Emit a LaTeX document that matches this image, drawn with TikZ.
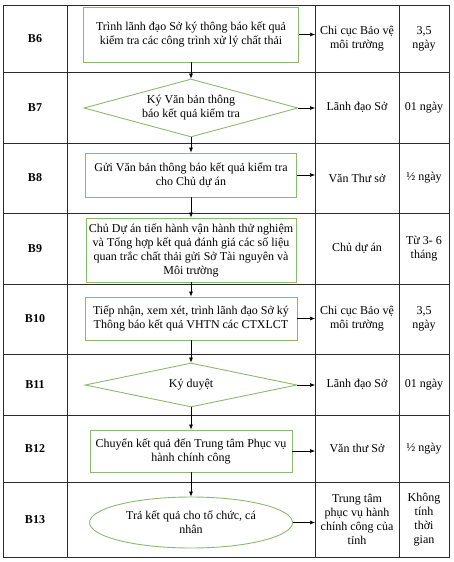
\documentclass[tikz,border=0pt]{standalone}
\usepackage{fontspec}
\setmainfont{Liberation Serif}
\usepackage{xcolor}
\usepackage{tikz}
\usetikzlibrary{shapes.geometric, arrows.meta, positioning}
\definecolor{boxline}{HTML}{8DB870}
\definecolor{rule}{HTML}{2B2B2B}

\begin{document}
\begin{tikzpicture}[x=1pt, y=-1pt,
  every node/.style={font=\fontsize{12}{14}\selectfont},
  stepbox/.style={rectangle, draw=boxline, line width=0.9pt, align=center, inner sep=0pt},
  decision/.style={diamond, shape aspect=3.7, draw=boxline, line width=0.9pt, align=center, inner sep=0pt},
  endbox/.style={ellipse, draw=boxline, line width=0.9pt, align=center, inner sep=0pt},
  steplbl/.style={font=\fontsize{12}{14}\selectfont\bfseries},
  cell/.style={align=center, inner sep=0pt},
  arr/.style={-{Latex[length=5pt,width=4pt]}, line width=0.6pt, color=black}]
\useasboundingbox (0,0) rectangle (454,562);
% table
\draw[rule, line width=1pt] (3,5) rectangle (449,557);
\foreach \x in {67,315,399} \draw[rule, line width=0.8pt] (\x,5) -- (\x,557);
\foreach \y in {72,143,213,284,354,415,482} \draw[rule, line width=0.8pt] (3,\y) -- (449,\y);
\coordinate (c3) at (315,0);
% steps
\node[steplbl] (l6) at (35,38.5) {B6};
\node[steplbl] (l7) at (35,107.5) {B7};
\node[steplbl] (l8) at (35,178) {B8};
\node[steplbl] (l9) at (35,248.5) {B9};
\node[steplbl] (l10) at (35,319) {B10};
\node[steplbl] (l11) at (35,384.5) {B11};
\node[steplbl] (l12) at (35,448.5) {B12};
\node[steplbl] (l13) at (35,519.5) {B13};
% flow
\node[stepbox, minimum width=215pt, minimum height=55pt] (b6) at (191,34.5)
  {Trình lãnh đạo Sở ký thông báo kết quả\\kiểm tra các công trình xử lý chất thải};
\node[decision, minimum width=214pt, minimum height=58pt] (b7) at (191,108)
  {Ký Văn bản thông\\báo kết quả kiểm tra};
\node[stepbox, minimum width=211pt, minimum height=44pt] (b8) at (191,175)
  {Gửi Văn bản thông báo kết quả kiểm tra\\cho Chủ dự án};
\node[stepbox, minimum width=210pt, minimum height=64pt] (b9) at (191,250)
  {Chủ Dự án tiến hành vận hành thử nghiệm\\và Tổng hợp kết quả đánh giá các số liệu\\quan trắc chất thải gửi Sở Tài nguyên và\\Môi trường};
\node[stepbox, minimum width=212pt, minimum height=43pt] (b10) at (191,318.5)
  {Tiếp nhận, xem xét, trình lãnh đạo Sở ký\\Thông báo kết quả VHTN các CTXLCT};
\node[decision, minimum width=212pt, minimum height=44pt] (b11) at (191,385)
  {Ký duyệt};
\node[stepbox, minimum width=202pt, minimum height=42pt] (b12) at (191,451)
  {Chuyển kết quả đến Trung tâm Phục vụ\\hành chính công};
\node[endbox, minimum width=203pt, minimum height=51pt] (b13) at (191,522.5)
  {Trả kết quả cho tổ chức, cá\\nhân};
% who
\node[cell] (w6) at (357,38.5) {Chi cục Bảo vệ\\môi trường};
\node[cell] (w7) at (357,107.5) {Lãnh đạo Sở};
\node[cell] (w8) at (357,178) {Văn Thư sở};
\node[cell] (w9) at (357,248.5) {Chủ dự án};
\node[cell] (w10) at (357,319) {Chi cục Bảo vệ\\môi trường};
\node[cell] (w11) at (357,384.5) {Lãnh đạo Sở};
\node[cell] (w12) at (357,448.5) {Văn thư Sở};
\node[cell] (w13) at (357,519.5) {Trung tâm\\phục vụ hành\\chính công của\\tỉnh};
% time
\node[cell] (t6) at (424,38.5) {3,5\\ngày};
\node[cell] (t7) at (424,107.5) {01 ngày};
\node[cell] (t8) at (424,178) {½ ngày};
\node[cell] (t9) at (424,248.5) {Từ 3- 6\\tháng};
\node[cell] (t10) at (424,319) {3,5\\ngày};
\node[cell] (t11) at (424,384.5) {01 ngày};
\node[cell] (t12) at (424,448.5) {½ ngày};
\node[cell] (t13) at (424,519.5) {Không\\tính\\thời\\gian};
% arrows
\draw[arr] (b6) -- (b7);
\draw[arr] (b7) -- (b8);
\draw[arr] (b8) -- (b9);
\draw[arr] (b9) -- (b10);
\draw[arr] (b10) -- (b11);
\draw[arr] (b11) -- (b12);
\draw[arr] (b12) -- (b13);
\draw[arr] (b6.east) -- (b6.east -| c3);
\draw[arr] (b7.east) -- (b7.east -| c3);
\draw[arr] (b8.east) -- (b8.east -| c3);
\draw[arr] (b10.east) -- (b10.east -| c3);
\draw[arr] (b11.east) -- (b11.east -| c3);
\draw[arr] (b12.east) -- (b12.east -| c3);
\draw[arr] (b13.east) -- (b13.east -| c3);
\end{tikzpicture}
\end{document}
